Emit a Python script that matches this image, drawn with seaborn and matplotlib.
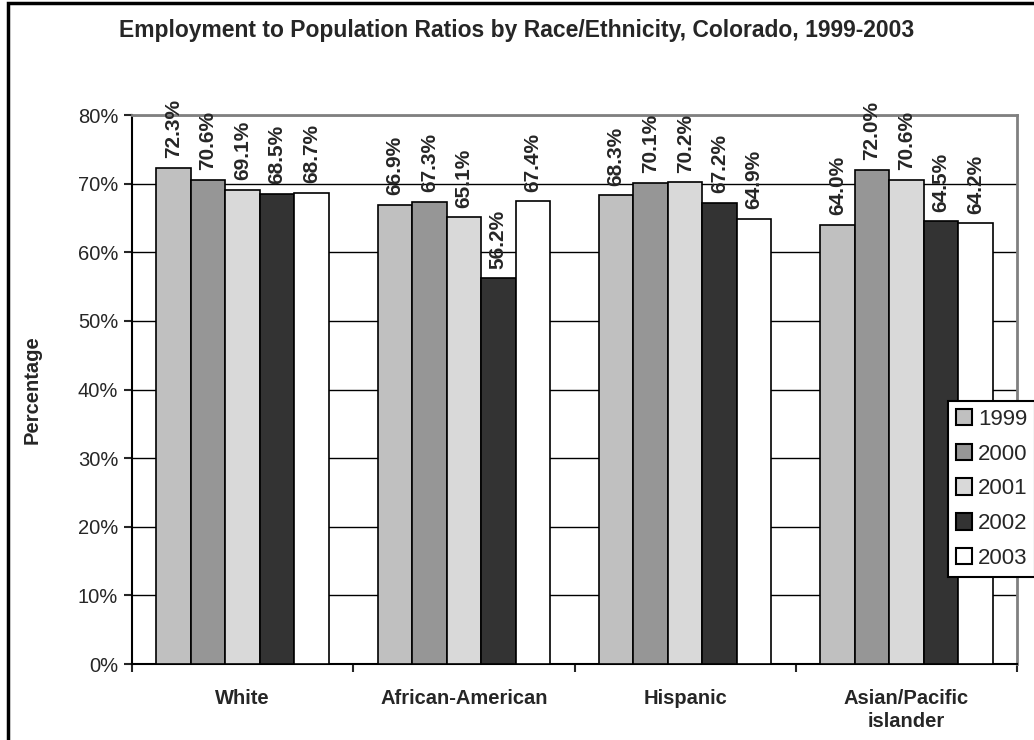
import pandas as pd
import matplotlib
matplotlib.use('Agg')
import matplotlib.pyplot as plt
import seaborn as sns
from matplotlib.patches import Rectangle, Patch
from matplotlib.ticker import FixedLocator, PercentFormatter

groups = ['White', 'African-American', 'Hispanic', 'Asian/Pacific\nislander']
years = ['1999', '2000', '2001', '2002', '2003']
y1999 = [72.3, 66.9, 68.3, 64.0]
y2000 = [70.6, 67.3, 70.1, 72.0]
y2001 = [69.1, 65.1, 70.2, 70.6]
y2002 = [68.5, 56.2, 67.2, 64.5]
y2003 = [68.7, 67.4, 64.9, 64.2]
colors = ['#c0c0c0', '#969696', '#d9d9d9', '#333333', '#ffffff']

rows = []
for year, vals in zip(years, [y1999, y2000, y2001, y2002, y2003]):
    for g, v in zip(groups, vals):
        rows.append({'Group': g, 'Year': year, 'Value': v})
df = pd.DataFrame(rows)

sns.set_style('white')
plt.rcParams['font.family'] = ['Liberation Sans', 'DejaVu Sans']

fig = plt.figure(figsize=(10.34, 7.40), dpi=100)
ax = fig.add_axes([132 / 1034, 1 - 664 / 740, (1017 - 132) / 1034, (664 - 115) / 740])

sns.barplot(data=df, x='Group', y='Value', hue='Year', palette=colors, width=0.78,
            edgecolor='black', linewidth=1.2, legend=False, ax=ax, zorder=3)

for cont in ax.containers:
    ax.bar_label(cont, labels=[f'{b.get_height():.1f}%' for b in cont], rotation=90,
                 padding=7, fontsize=15, fontweight='bold', zorder=4)

ax.set_ylim(0, 80)
ax.set_xlim(-0.5, 3.5)
ax.set_yticks(range(0, 81, 10))
ax.yaxis.set_major_formatter(PercentFormatter(decimals=0))
ax.yaxis.grid(True, color='black', linewidth=1)
ax.set_axisbelow(True)
ax.tick_params(axis='y', direction='out', length=6, width=1.5, labelsize=14.5, left=True, pad=4)
ax.xaxis.set_minor_locator(FixedLocator([-0.5, 0.5, 1.5, 2.5, 3.5]))
ax.tick_params(axis='x', which='major', length=0, labelsize=14.5, pad=18)
ax.tick_params(axis='x', which='minor', direction='out', length=6, width=1.5, bottom=True)
for lab in ax.get_xticklabels():
    lab.set_fontweight('bold')
    lab.set_linespacing(1.25)
ax.set_xlabel('')
ax.set_ylabel('Percentage', fontsize=14.5, fontweight='bold', labelpad=26)

for side in ['left', 'bottom']:
    ax.spines[side].set_color('black')
    ax.spines[side].set_linewidth(1.5)
for side in ['top', 'right']:
    ax.spines[side].set_visible(True)
    ax.spines[side].set_color('#808080')
    ax.spines[side].set_linewidth(2)

fig.suptitle('Employment to Population Ratios by Race/Ethnicity, Colorado, 1999-2003',
             x=0.5, y=1 - 30 / 740, va='center', fontsize=16.5, fontweight='bold')

handles = [Patch(facecolor=c, edgecolor='black', linewidth=1.5) for c in colors]
leg = fig.legend(handles, years, loc='upper left', bbox_to_anchor=(948 / 1034, 1 - 401 / 740),
                 fontsize=16, frameon=True, fancybox=False, handlelength=0.75, handleheight=0.75,
                 handletextpad=0.25, borderpad=0.35, labelspacing=0.62, borderaxespad=0)
leg.get_frame().set_edgecolor('black')
leg.get_frame().set_linewidth(1.5)
leg.get_frame().set_alpha(1)

fig.patches.append(Rectangle((8 / 1034, -0.1), 1.2, 1.1 - 3 / 740, transform=fig.transFigure,
                             fill=False, edgecolor='black', linewidth=2.5))

fig.savefig('out.png', dpi=100)
